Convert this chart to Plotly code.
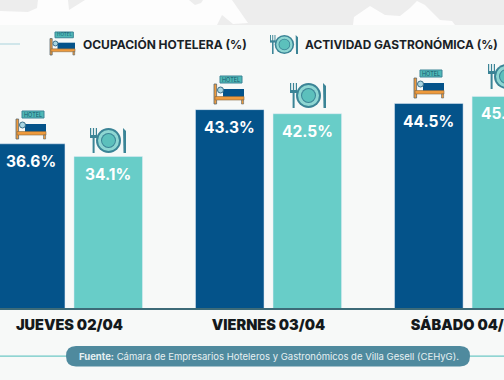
import plotly.graph_objects as go

W, H, BASE = 504, 380, 308
days = ["JUEVES 02/04", "VIERNES 03/04", "SÁBADO 04/04"]
hotel = [36.6, 43.3, 44.5]
gastro = [34.1, 42.5, 45.9]
hotel_name = "OCUPACIÓN HOTELERA (%)"
gastro_name = "ACTIVIDAD GASTRONÓMICA (%)"
source_bold = "Fuente:"
source_text = "Cámara de Empresarios Hoteleros y Gastronómicos de Villa Gesell (CEHyG)."

NAVY, TEAL = "#04538a", "#68cdc8"
DARKT, ORANGE = "#3b8496", "#ee9a3c"
FONT = "Inter"

fig = go.Figure()
fig.add_bar(name=hotel_name, x=days, y=hotel, marker_color=NAVY, showlegend=False)
fig.add_bar(name=gastro_name, x=days, y=gastro, marker_color=TEAL, showlegend=False)

shapes, annos = [], []


def px(x):
    return x / W


def py(y):
    return (BASE - y) / BASE


def note(x, y, text, size, color, xanchor="center"):
    annos.append(dict(xref="paper", yref="paper", x=px(x), y=py(y), xanchor=xanchor, yanchor="middle",
                      showarrow=False, text=text, font=dict(size=size, color=color, family=FONT)))


def rect(x0, y0, x1, y1, fill, line=None, lw=0, layer="above"):
    shapes.append(dict(type="rect", xref="paper", yref="paper", x0=px(x0), x1=px(x1),
                       y0=py(y1), y1=py(y0), fillcolor=fill, layer=layer,
                       line=dict(color=line or fill, width=lw)))


def circ(cx, cy, rx, ry, fill, line=None, lw=0):
    shapes.append(dict(type="circle", xref="paper", yref="paper", x0=px(cx - rx), x1=px(cx + rx),
                       y0=py(cy + ry), y1=py(cy - ry), fillcolor=fill,
                       line=dict(color=line or fill, width=lw)))


def poly(pts, fill, layer="above"):
    d = "M" + " L".join(f"{px(a):.5f},{py(b):.5f}" for a, b in pts) + " Z"
    shapes.append(dict(type="path", xref="paper", yref="paper", path=d, fillcolor=fill,
                       line=dict(width=0), layer=layer))


def bed(x, y, w, h):
    sx, sy = w / 30, h / 28
    R = lambda a, b, c, d, f, l=None, lw=0: rect(x + a * sx, y + b * sy, x + c * sx, y + d * sy, f, l, lw)
    R(6, 0, 28, 7, "#4fb8b6", DARKT, 1)
    note(x + 17 * sx, y + 3.6 * sy, "HOTEL", 5.5 * sx, "#17566c")
    R(9, 13, 30, 21, NAVY)
    circ(x + 6.5 * sx, y + 14 * sy, 3 * sx, 3 * sy, "#a8d5e2", "#3a6f88", 1)
    R(0, 8, 2.6, 28, ORANGE, "#5c6a70", 0.8)
    R(1, 20.5, 30, 24, ORANGE, "#8a6a40", 0.6)
    R(27.5, 24, 29.6, 28, ORANGE, "#5c6a70", 0.6)


def plate(x, y, w, h):
    sx, sy = w / 36, h / 25
    R = lambda a, b, c, d, f: rect(x + a * sx, y + b * sy, x + c * sx, y + d * sy, f)
    R(2.6, 8, 4.6, 25, DARKT)
    R(0, 0, 1.2, 9, DARKT)
    R(2.9, 0, 4.1, 9, DARKT)
    R(5.8, 0, 7, 9, DARKT)
    R(0, 7, 7, 10, DARKT)
    cx, cy = x + 18.5 * sx, y + 12.5 * sy
    circ(cx, cy, 12.5 * sx, 12.5 * sy, DARKT)
    circ(cx, cy, 10.5 * sx, 10.5 * sy, "#8ed6d2")
    circ(cx, cy, 7.5 * sx, 7.5 * sy, DARKT)
    circ(cx, cy, 6.5 * sx, 6.5 * sy, "#5cc0bc")
    poly([(x + 33 * sx, y), (x + 36 * sx, y + 3 * sy), (x + 36 * sx, y + 25 * sy), (x + 33.5 * sx, y + 25 * sy)], DARKT)


# background bands
B = "below"
rect(0, 0, W, 25, "#ededed", layer=B)
poly([(0, 11), (28, 12), (37, 8), (38, 0), (68, 0), (69, 10), (85, 0), (189, 0), (195, 5), (201, 3), (203, 0), (232, 0),
      (248, 23), (233, 24), (222, 15), (217, 25), (0, 25)], "#fdfdfd", B)
poly([(353, 25), (354, 17), (370, 6), (385, 15), (400, 16), (410, 8), (417, 1), (425, 5), (440, 20), (452, 21), (455, 25)],
     "#fdfdfd", B)
rect(0, 25, W, H, "#f7f9f8", layer=B)
rect(0, 43.5, 20, 44.5, "#a9d3dc", layer=B)
rect(0, 355.5, 70, 356.8, "#6ec8c6", layer=B)
rect(465, 355.5, W, 356.8, "#6ec8c6", layer=B)

# footer pill
shapes.append(dict(type="path", xref="paper", yref="paper", fillcolor="#4f8a9e", line=dict(width=0),
                   path=f"M{px(76)},{py(346)} L{px(460)},{py(346)} "
                        f"Q{px(470)},{py(346)} {px(470)},{py(356)} Q{px(470)},{py(366.5)} {px(460)},{py(366.5)} "
                        f"L{px(76)},{py(366.5)} Q{px(66)},{py(366.5)} {px(66)},{py(356)} Q{px(66)},{py(346)} {px(76)},{py(346)} Z"))
note(268.5, 356.5, f"<b>{source_bold}</b> {source_text}", 9.5, "#e6f0f2")

# legend
bed(50, 32, 25, 23)
plate(270, 35, 28, 19)
note(81, 44, f"<b>{hotel_name}</b>", 12, "#1a2226", "left")
note(303, 44, f"<b>{gastro_name}</b>", 11.9, "#1a2226", "left")

# icons above bars
bed(16, 111, 30, 28)
bed(214, 76, 30, 28)
bed(414, 70, 30, 28)
plate(90, 128, 36, 25)
plate(290, 83, 36, 25)
plate(488, 64, 36, 25)

# value labels, anchored to the bars
for d, a, b in zip(days, hotel, gastro):
    annos.append(dict(x=d, y=a, xshift=-38.75, yshift=-6, yanchor="top", showarrow=False,
                      text=f"<b>{a}%</b>", font=dict(size=15.5, color="white", family=FONT)))
    annos.append(dict(x=d, y=b, xshift=38.75, yshift=-6, yanchor="top", showarrow=False,
                      text=f"<b>{b}%</b>", font=dict(size=15.5, color="white", family=FONT)))

fig.update_layout(
    width=W, height=H, margin=dict(l=0, r=0, t=0, b=H - BASE), autosize=False,
    paper_bgcolor="#f7f9f8", plot_bgcolor="rgba(0,0,0,0)",
    barmode="group", bargap=0.221, bargroupgap=0.116,
    shapes=shapes, annotations=annos,
    xaxis=dict(type="category", range=[-0.349, 2.183], showgrid=False, ticks="", automargin=False,
               showline=True, linecolor="#3d6b78", linewidth=1.5,
               tickfont=dict(size=14.5, color="#14191c", family=FONT + " Black, " + FONT), ticklabelstandoff=3,
               tickprefix="<b>", ticksuffix="</b>"),
    yaxis=dict(range=[4.4, 64.8], visible=False),
)

fig.write_html("out.html", config={"displayModeBar": False},
               post_script="document.body.style.margin='0';document.documentElement.style.overflow='hidden';")
